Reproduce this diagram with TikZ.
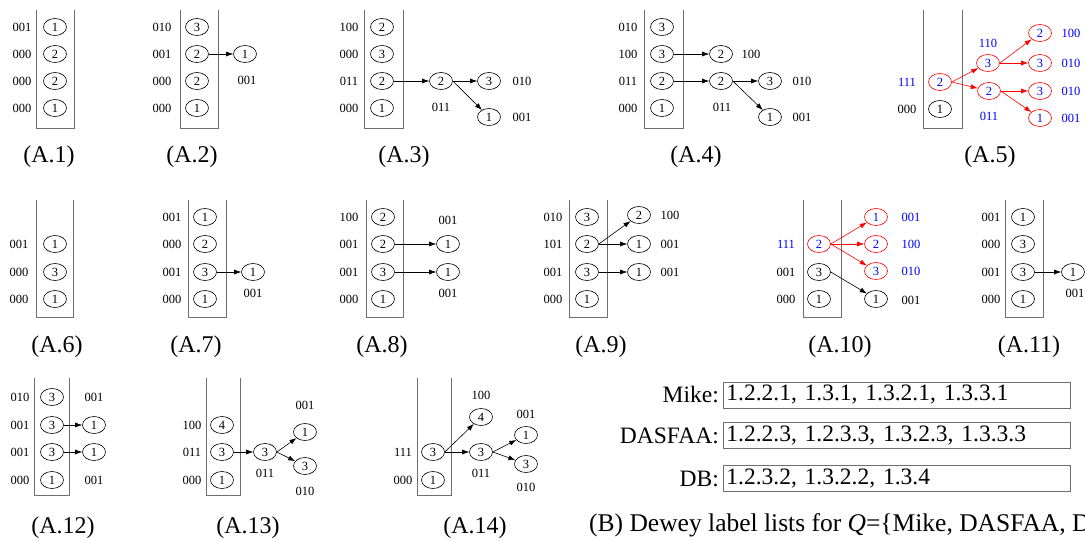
\documentclass[tikz,border=0pt]{standalone}
\usepackage{fontspec}
\setmainfont{Liberation Serif}
\usetikzlibrary{shapes.geometric,arrows.meta}
\definecolor{boxgray}{RGB}{110,110,110}
\begin{document}
\begin{tikzpicture}[x=1pt,y=-1pt,
  nd/.style={ellipse,draw,minimum width=23pt,minimum height=17pt,inner sep=0pt,font=\fontsize{12.5}{12.5}\selectfont,line width=0.6pt},
  rnd/.style={nd,draw=red,text=blue},
  lab/.style={inner sep=0pt,font=\fontsize{12.5}{12.5}\selectfont},
  blab/.style={lab,text=blue},
  captxt/.style={inner sep=0pt,font=\fontsize{24}{24}\selectfont},
  btext/.style={inner sep=0pt,font=\fontsize{23.5}{23.5}\selectfont},
  bbox/.style={draw=boxgray,line width=0.8pt,minimum height=26pt,text width=341pt,inner xsep=3pt,inner ysep=0pt,align=left,anchor=west,font=\fontsize{23.5}{23.5}\selectfont},
  stk/.style={draw=boxgray,line width=0.8pt},
  arr/.style={draw,-{Latex[length=7pt,width=5pt]},line width=0.6pt},
  rarr/.style={arr,red}]
\clip (0,0) rectangle (1085,541);
\fill[white] (0,0) rectangle (1085,541);

% ---------- A.1
\draw[stk] (36,10) -- (36,128) -- (74,128) -- (74,10);
\foreach \t/\l/\y [count=\i] in {1/001/27,2/000/54,2/000/81,1/000/108}{
  \node[nd] (a1s\i) at (55,\y) {\t}; \node[lab] (a1l\i) at (22,\y) {\l};}
\node[captxt] (a1cap) at (49,157) {(A.1)};

% ---------- A.2
\draw[stk] (180,10) -- (180,128) -- (218,128) -- (218,10);
\foreach \t/\l/\y [count=\i] in {3/010/27,2/001/54,2/000/81,1/000/108}{
  \node[nd] (a2s\i) at (197,\y) {\t}; \node[lab] (a2l\i) at (162,\y) {\l};}
\node[nd] (a2c1) at (245,54) {1}; \node[lab] (a2cl1) at (247,80) {001};
\draw[arr] (a2s2.east) -- (a2c1);
\node[captxt] (a2cap) at (192,157) {(A.2)};

% ---------- A.3
\draw[stk] (364,10) -- (364,128) -- (403,128) -- (403,10);
\foreach \t/\l/\y [count=\i] in {2/100/27,3/000/54,2/011/81,1/000/108}{
  \node[nd] (a3s\i) at (382,\y) {\t}; \node[lab] (a3l\i) at (349,\y) {\l};}
\node[nd] (a3c1) at (441,81) {2}; \node[lab] (a3cl1) at (441,107) {011};
\node[nd] (a3c2) at (489,81) {3}; \node[lab] (a3cl2) at (522,81) {010};
\node[nd] (a3c3) at (489,117) {1}; \node[lab] (a3cl3) at (522,117) {001};
\draw[arr] (a3s3.east) -- (a3c1);
\draw[arr] (a3c1.east) -- (a3c2);
\draw[arr] (a3c1.east) -- (a3c3);
\node[captxt] (a3cap) at (404,157) {(A.3)};

% ---------- A.4
\draw[stk] (644,10) -- (644,128) -- (683,128) -- (683,10);
\foreach \t/\l/\y [count=\i] in {3/010/27,3/100/54,2/011/81,1/000/108}{
  \node[nd] (a4s\i) at (662,\y) {\t}; \node[lab] (a4l\i) at (628,\y) {\l};}
\node[nd] (a4c1) at (721,54) {2}; \node[lab] (a4cl1) at (751,54) {100};
\node[nd] (a4c2) at (721,81) {2}; \node[lab] (a4cl2) at (722,107) {011};
\node[nd] (a4c3) at (770,81) {3}; \node[lab] (a4cl3) at (802,81) {010};
\node[nd] (a4c4) at (770,117) {1}; \node[lab] (a4cl4) at (802,117) {001};
\draw[arr] (a4s2.east) -- (a4c1);
\draw[arr] (a4s3.east) -- (a4c2);
\draw[arr] (a4c2.east) -- (a4c3);
\draw[arr] (a4c2.east) -- (a4c4);
\node[captxt] (a4cap) at (696,157) {(A.4)};

% ---------- A.5
\draw[stk] (923,10) -- (923,128) -- (962,128) -- (962,10);
\node[rnd] (a5s1) at (940,82) {2}; \node[blab] (a5l1) at (907,82) {111};
\node[nd] (a5s2) at (940,109) {1}; \node[lab] (a5l2) at (907,109) {000};
\node[rnd] (a5c1) at (988,63) {3}; \node[blab] (a5cl1) at (988,43) {110};
\node[rnd] (a5c2) at (989,91) {2}; \node[blab] (a5cl2) at (989,116) {011};
\node[rnd] (a5d1) at (1040,33) {2}; \node[blab] (a5dl1) at (1071,33) {100};
\node[rnd] (a5d2) at (1040,63) {3}; \node[blab] (a5dl2) at (1071,63) {010};
\node[rnd] (a5d3) at (1040,91) {3}; \node[blab] (a5dl3) at (1071,91) {010};
\node[rnd] (a5d4) at (1040,118) {1}; \node[blab] (a5dl4) at (1071,118) {001};
\draw[rarr] (a5s1.east) -- (a5c1);
\draw[rarr] (a5s1.east) -- (a5c2);
\draw[rarr] (a5c1.east) -- (a5d1);
\draw[rarr] (a5c1.east) -- (a5d2);
\draw[rarr] (a5c2.east) -- (a5d3);
\draw[rarr] (a5c2.east) -- (a5d4);
\node[captxt] (a5cap) at (990,157) {(A.5)};

% ---------- A.6
\draw[stk] (36,200) -- (36,317) -- (73,317) -- (73,200);
\foreach \t/\l/\y [count=\i] in {1/001/244,3/000/272,1/000/299}{
  \node[nd] (a6s\i) at (55,\y) {\t}; \node[lab] (a6l\i) at (19,\y) {\l};}
\node[captxt] (a6cap) at (57,347) {(A.6)};

% ---------- A.7
\draw[stk] (188,200) -- (188,317) -- (226,317) -- (226,200);
\foreach \t/\l/\y [count=\i] in {1/001/217,2/000/244,3/001/272,1/000/299}{
  \node[nd] (a7s\i) at (205,\y) {\t}; \node[lab] (a7l\i) at (172,\y) {\l};}
\node[nd] (a7c1) at (253,272) {1}; \node[lab] (a7cl1) at (253,293) {001};
\draw[arr] (a7s3.east) -- (a7c1);
\node[captxt] (a7cap) at (196,347) {(A.7)};

% ---------- A.8
\draw[stk] (366,200) -- (366,317) -- (403,317) -- (403,200);
\foreach \t/\l/\y [count=\i] in {2/100/217,2/001/244,3/001/272,1/000/299}{
  \node[nd] (a8s\i) at (383,\y) {\t}; \node[lab] (a8l\i) at (349,\y) {\l};}
\node[nd] (a8c1) at (448,244) {1}; \node[lab] (a8cl1) at (448,220) {001};
\node[nd] (a8c2) at (448,272) {1}; \node[lab] (a8cl2) at (448,293) {001};
\draw[arr] (a8s2.east) -- (a8c1);
\draw[arr] (a8s3.east) -- (a8c2);
\node[captxt] (a8cap) at (382,347) {(A.8)};

% ---------- A.9
\draw[stk] (569,200) -- (569,317) -- (607,317) -- (607,200);
\foreach \t/\l/\y [count=\i] in {3/010/217,2/101/244,3/001/272,1/000/299}{
  \node[nd] (a9s\i) at (587,\y) {\t}; \node[lab] (a9l\i) at (553,\y) {\l};}
\node[nd] (a9c1) at (639,215) {2}; \node[lab] (a9cl1) at (670,215) {100};
\node[nd] (a9c2) at (639,244) {1}; \node[lab] (a9cl2) at (670,244) {001};
\node[nd] (a9c3) at (639,272) {1}; \node[lab] (a9cl3) at (670,272) {001};
\draw[arr] (a9s2.east) -- (a9c1);
\draw[arr] (a9s2.east) -- (a9c2);
\draw[arr] (a9s3.east) -- (a9c3);
\node[captxt] (a9cap) at (601,347) {(A.9)};

% ---------- A.10
\draw[stk] (803,200) -- (803,317) -- (841,317) -- (841,200);
\node[rnd] (a10s1) at (819,244) {2}; \node[blab] (a10l1) at (786,244) {111};
\node[nd] (a10s2) at (819,272) {3}; \node[lab] (a10l2) at (786,272) {001};
\node[nd] (a10s3) at (819,299) {1}; \node[lab] (a10l3) at (786,299) {000};
\node[rnd] (a10c1) at (876,217) {1}; \node[blab] (a10cl1) at (911,217) {001};
\node[rnd] (a10c2) at (876,244) {2}; \node[blab] (a10cl2) at (911,244) {100};
\node[rnd] (a10c3) at (876,271) {3}; \node[blab] (a10cl3) at (911,271) {010};
\node[nd] (a10c4) at (876,299) {1}; \node[lab] (a10cl4) at (911,300) {001};
\draw[rarr] (a10s1.east) -- (a10c1);
\draw[rarr] (a10s1.east) -- (a10c2);
\draw[rarr] (a10s1.east) -- (a10c3);
\draw[arr] (a10s2.east) -- (a10c4);
\node[captxt] (a10cap) at (840,347) {(A.10)};

% ---------- A.11
\draw[stk] (1005,200) -- (1005,317) -- (1043,317) -- (1043,200);
\foreach \t/\l/\y [count=\i] in {1/001/217,3/000/244,3/001/272,1/000/299}{
  \node[nd] (a11s\i) at (1023,\y) {\t}; \node[lab] (a11l\i) at (991,\y) {\l};}
\node[nd] (a11c1) at (1073,272) {1}; \node[lab] (a11cl1) at (1075,293) {001};
\draw[arr] (a11s3.east) -- (a11c1);
\node[captxt] (a11cap) at (1029,347) {(A.11)};

% ---------- A.12
\draw[stk] (34,378) -- (34,495) -- (69,495) -- (69,378);
\foreach \t/\l/\y [count=\i] in {3/010/397,3/001/425,3/001/452,1/000/480}{
  \node[nd] (a12s\i) at (52,\y) {\t}; \node[lab] (a12l\i) at (20,\y) {\l};}
\node[nd] (a12c1) at (94,425) {1}; \node[lab] (a12cl1) at (94,397) {001};
\node[nd] (a12c2) at (94,452) {1}; \node[lab] (a12cl2) at (94,480) {001};
\draw[arr] (a12s2.east) -- (a12c1);
\draw[arr] (a12s3.east) -- (a12c2);
\node[captxt] (a12cap) at (63,528) {(A.12)};

% ---------- A.13
\draw[stk] (206,378) -- (206,495) -- (240,495) -- (240,378);
\foreach \t/\l/\y [count=\i] in {4/100/425,3/011/452,1/000/480}{
  \node[nd] (a13s\i) at (222,\y) {\t}; \node[lab] (a13l\i) at (192,\y) {\l};}
\node[nd] (a13c1) at (265,452) {3}; \node[lab] (a13cl1) at (265,473) {011};
\node[nd] (a13d1) at (305,432) {1}; \node[lab] (a13dl1) at (305,405) {001};
\node[nd] (a13d2) at (305,466) {3}; \node[lab] (a13dl2) at (305,491) {010};
\draw[arr] (a13s2.east) -- (a13c1);
\draw[arr] (a13c1.east) -- (a13d1);
\draw[arr] (a13c1.east) -- (a13d2);
\node[captxt] (a13cap) at (248,528) {(A.13)};

% ---------- A.14
\draw[stk] (417,378) -- (417,495) -- (451,495) -- (451,378);
\node[nd] (a14s1) at (433,452) {3}; \node[lab] (a14l1) at (403,452) {111};
\node[nd] (a14s2) at (433,480) {1}; \node[lab] (a14l2) at (403,480) {000};
\node[nd] (a14c1) at (481,417) {4}; \node[lab] (a14cl1) at (481,395) {100};
\node[nd] (a14c2) at (481,452) {3}; \node[lab] (a14cl2) at (481,473) {011};
\node[nd] (a14d1) at (526,435) {1}; \node[lab] (a14dl1) at (526,414) {001};
\node[nd] (a14d2) at (526,464) {3}; \node[lab] (a14dl2) at (526,487) {010};
\draw[arr] (a14s1.east) -- (a14c1);
\draw[arr] (a14s1.east) -- (a14c2);
\draw[arr] (a14c2.east) -- (a14d1);
\draw[arr] (a14c2.east) -- (a14d2);
\node[captxt] (a14cap) at (475,528) {(A.14)};

% ---------- B
\node[bbox] (b1) at (723,395) {1.2.2.1, 1.3.1, 1.3.2.1, 1.3.3.1};
\node[bbox] (b2) at (723,435.5) {1.2.2.3, 1.2.3.3, 1.3.2.3, 1.3.3.3};
\node[bbox] (b3) at (723,478.5) {1.2.3.2, 1.3.2.2, 1.3.4};
\node[btext,anchor=east] (bl1) at (719,395) {Mike:};
\node[btext,anchor=east] (bl2) at (719,435.5) {DASFAA:};
\node[btext,anchor=east] (bl3) at (719,478.5) {DB:};
\node[btext,anchor=west,font=\fontsize{25.5}{25.5}\selectfont] (bcap) at (589,525) {(B) Dewey label lists for \textit{Q}=\{Mike, DASFAA, DB\}};
\end{tikzpicture}
\end{document}
